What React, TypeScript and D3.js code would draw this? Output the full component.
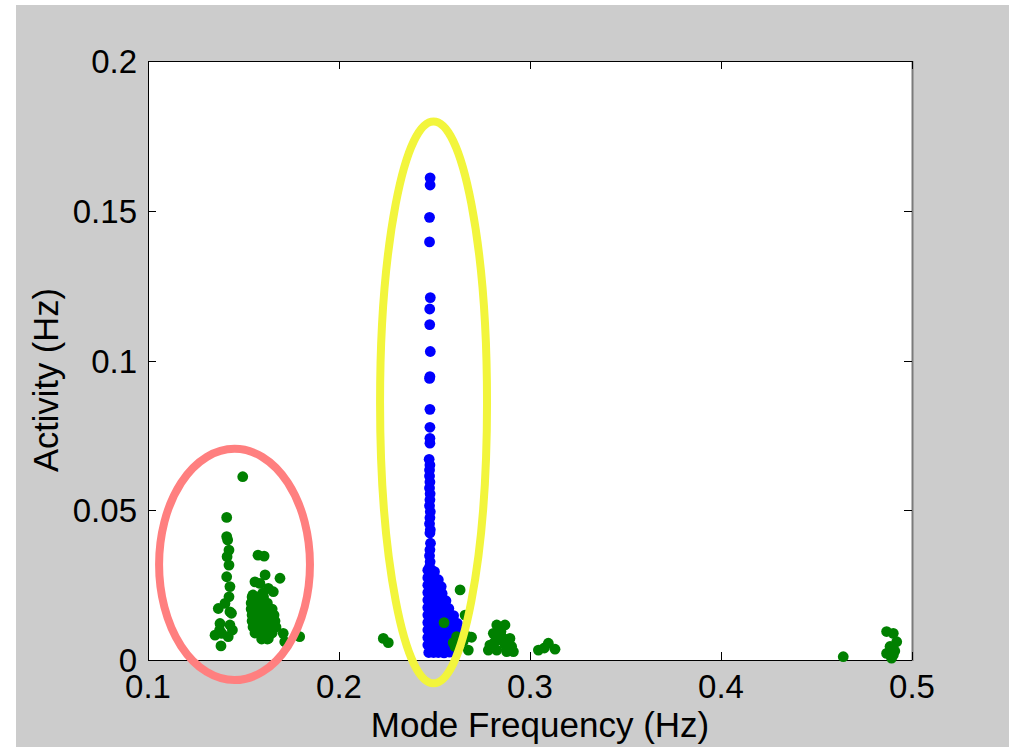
import React from "react";
import * as d3 from "d3";

const xTicks = [0.1, 0.2, 0.3, 0.4, 0.5];
const yTicks = [0, 0.05, 0.1, 0.15, 0.2];
const xTickLabels = ["0.1", "0.2", "0.3", "0.4", "0.5"];
const yTickLabels = ["0", "0.05", "0.1", "0.15", "0.2"];

// Blue cluster: [mode frequency, activity]
const bluePoints: [number, number][] = [
  [0.2477, 0.161], [0.2477, 0.1586], [0.2474, 0.1478], [0.2474, 0.1396],
  [0.2478, 0.121], [0.2475, 0.1172], [0.2475, 0.112], [0.2478, 0.103],
  [0.2476, 0.0946], [0.2474, 0.094], [0.2476, 0.0837], [0.2476, 0.0777],
  [0.2476, 0.074], [0.2476, 0.0724], [0.2472, 0.067], [0.2476, 0.0651],
  [0.2474, 0.0634], [0.2474, 0.0614], [0.2476, 0.0594], [0.2474, 0.0574],
  [0.2477, 0.0555], [0.2476, 0.0535], [0.2474, 0.0515], [0.2478, 0.0495],
  [0.2476, 0.0475], [0.2474, 0.0455], [0.2478, 0.0435], [0.2476, 0.0424],
  [0.2479, 0.039], [0.2476, 0.0368], [0.2474, 0.0348], [0.2477, 0.0328],
  [0.2474, 0.031],
  [0.2465, 0.030], [0.2485, 0.030], [0.2500, 0.0295],
  [0.2465, 0.0275], [0.2485, 0.0275], [0.2505, 0.0272], [0.2520, 0.0268],
  [0.2465, 0.025], [0.2490, 0.025], [0.2515, 0.0248], [0.2535, 0.0245],
  [0.2465, 0.0225], [0.2490, 0.0225], [0.2515, 0.0225], [0.2540, 0.0222],
  [0.2465, 0.020], [0.2490, 0.020], [0.2515, 0.020], [0.2540, 0.020], [0.2560, 0.0198],
  [0.2465, 0.0175], [0.2490, 0.0175], [0.2515, 0.0175], [0.2545, 0.0175], [0.2575, 0.0172],
  [0.2465, 0.015], [0.2490, 0.015], [0.2515, 0.015], [0.2545, 0.015], [0.2575, 0.015], [0.2600, 0.0148],
  [0.2465, 0.0125], [0.2490, 0.0125], [0.2515, 0.0125], [0.2545, 0.0125], [0.2575, 0.0125], [0.2605, 0.0125], [0.2620, 0.0122],
  [0.2465, 0.010], [0.2490, 0.010], [0.2515, 0.010], [0.2545, 0.010], [0.2575, 0.010], [0.2605, 0.010], [0.2625, 0.0098],
  [0.2465, 0.0075], [0.2490, 0.0075], [0.2515, 0.0075], [0.2545, 0.0075], [0.2575, 0.0075], [0.2605, 0.0075], [0.2625, 0.0072],
  [0.2465, 0.005], [0.2490, 0.005], [0.2515, 0.005], [0.2545, 0.005], [0.2575, 0.005], [0.2600, 0.0048],
  [0.2470, 0.0025], [0.2495, 0.0025], [0.2520, 0.0025], [0.2550, 0.0024], [0.2580, 0.0026],
];

// Green points: [mode frequency, activity]
const greenPoints: [number, number][] = [
  // left column inside red ellipse
  [0.1496, 0.0612], [0.1412, 0.0476], [0.1412, 0.0412], [0.1417, 0.0401],
  [0.1424, 0.0367], [0.1414, 0.0345], [0.1424, 0.0317], [0.1412, 0.0278],
  [0.1429, 0.0245], [0.1424, 0.0211], [0.1403, 0.0189], [0.1368, 0.0172],
  [0.1429, 0.0161], [0.1437, 0.0156], [0.1377, 0.0122], [0.1429, 0.0117],
  [0.1442, 0.010], [0.1351, 0.0083], [0.1386, 0.0089], [0.1420, 0.0078],
  [0.1382, 0.0047], [0.1375, 0.0100],
  // second column inside red ellipse
  [0.1576, 0.035], [0.1608, 0.0347], [0.1613, 0.0284], [0.1691, 0.0273],
  [0.1560, 0.0261], [0.1586, 0.0256], [0.1630, 0.0239], [0.1656, 0.0228],
  [0.1549, 0.0217], [0.1600, 0.0223],
  [0.1545, 0.021], [0.1575, 0.021], [0.1605, 0.021],
  [0.1540, 0.019], [0.1570, 0.019], [0.1600, 0.019], [0.1625, 0.019],
  [0.1540, 0.017], [0.1565, 0.017], [0.1595, 0.017], [0.1625, 0.017], [0.1650, 0.017],
  [0.1545, 0.015], [0.1570, 0.015], [0.1600, 0.015], [0.1630, 0.015], [0.1660, 0.015],
  [0.1545, 0.013], [0.1575, 0.013], [0.1605, 0.013], [0.1635, 0.013], [0.1665, 0.013],
  [0.1550, 0.011], [0.1580, 0.011], [0.1610, 0.011], [0.1640, 0.011], [0.1670, 0.011],
  [0.1560, 0.009], [0.1590, 0.009], [0.1620, 0.009], [0.1650, 0.009],
  [0.1595, 0.007], [0.1625, 0.007],
  [0.1708, 0.0089], [0.1794, 0.0078], [0.1716, 0.0061], [0.1630, 0.0072],
  // around the blue column
  [0.2232, 0.0072], [0.2258, 0.0058],
  [0.2634, 0.0234], [0.2550, 0.0125], [0.2660, 0.015],
  [0.2616, 0.0078], [0.2607, 0.0045], [0.2598, 0.0058],
  [0.2677, 0.0078], [0.2694, 0.0076], [0.2677, 0.0033], [0.2650, 0.0062],
  // cluster near 0.28-0.29
  [0.2826, 0.0117], [0.2869, 0.0117], [0.2808, 0.0089], [0.2860, 0.0072],
  [0.2790, 0.005], [0.2834, 0.0067], [0.2895, 0.0072], [0.2782, 0.0033],
  [0.2826, 0.0033], [0.2878, 0.0028], [0.2913, 0.0028], [0.2904, 0.0045],
  [0.2848, 0.0095], [0.2815, 0.0060], [0.2870, 0.0050],
  // cluster near 0.30-0.31
  [0.3044, 0.0033], [0.3096, 0.0056], [0.3131, 0.0036], [0.3075, 0.0040],
  // right cluster
  [0.4640, 0.0011], [0.4867, 0.0095], [0.4902, 0.0089], [0.4920, 0.0061],
  [0.4885, 0.0045], [0.4867, 0.0022], [0.4902, 0.0017], [0.4893, 0.0006],
  [0.4910, 0.0030],
];

// Annotation ellipses: [centre freq, centre activity, half-width freq, half-height activity]
const redEllipse = [0.1453, 0.0319, 0.0395, 0.0386];
const yellowEllipse = [0.2495, 0.086, 0.028, 0.0938];

const W = 1009;
const H = 747;
const margin = { left: 148, right: 912, top: 61, bottom: 660 };
const font = "'Liberation Sans', Arial, Helvetica, sans-serif";

export default function App() {
  const x = d3.scaleLinear().domain([0.1, 0.5]).range([margin.left, margin.right]);
  const y = d3.scaleLinear().domain([0, 0.2]).range([margin.bottom, margin.top]);
  const tick = 8;
  const r = 5.4;

  const ell = (e: number[], color: string) => {
    const cx = x(e[0]);
    const cy = y(e[1]);
    const rx = x(e[0] + e[2]) - cx;
    const ry = cy - y(e[1] + e[3]);
    return <ellipse cx={cx} cy={cy} rx={rx} ry={ry} fill="none" stroke={color} strokeWidth={8} />;
  };

  return (
    <svg width={W} height={H} style={{ position: "absolute", left: 0, top: 0 }}>
      <rect x={0} y={0} width={W} height={H} fill="#ffffff" />
      <rect x={16} y={5} width={W - 16} height={H - 5} fill="#cccccc" />
      <rect
        x={margin.left}
        y={margin.top}
        width={margin.right - margin.left}
        height={margin.bottom - margin.top}
        fill="#ffffff"
      />
      {/* box */}
      <line x1={margin.left} x2={margin.right} y1={margin.top + 0.5} y2={margin.top + 0.5} stroke="#000" />
      <line x1={margin.left} x2={margin.right} y1={margin.bottom + 0.5} y2={margin.bottom + 0.5} stroke="#000" />
      <line x1={margin.left + 0.5} x2={margin.left + 0.5} y1={margin.top} y2={margin.bottom} stroke="#000" />
      <line x1={margin.right + 0.5} x2={margin.right + 0.5} y1={margin.top} y2={margin.bottom + 1} stroke="#7a7a7a" strokeWidth={2} />
      {/* ticks */}
      {xTicks.map((t) => (
        <g key={"xt" + t}>
          <line x1={Math.round(x(t)) + 0.5} x2={Math.round(x(t)) + 0.5} y1={margin.bottom} y2={margin.bottom - tick} stroke="#000" />
          <line x1={Math.round(x(t)) + 0.5} x2={Math.round(x(t)) + 0.5} y1={margin.top} y2={margin.top + tick} stroke="#000" />
        </g>
      ))}
      {yTicks.map((t) => (
        <g key={"yt" + t}>
          <line x1={margin.left} x2={margin.left + tick} y1={Math.round(y(t)) + 0.5} y2={Math.round(y(t)) + 0.5} stroke="#000" />
          <line x1={margin.right} x2={margin.right - tick} y1={Math.round(y(t)) + 0.5} y2={Math.round(y(t)) + 0.5} stroke="#000" />
        </g>
      ))}
      {/* data */}
      {bluePoints.map((p, i) => (
        <circle key={"b" + i} cx={x(p[0])} cy={y(p[1])} r={r} fill="#0000ff" />
      ))}
      {greenPoints.map((p, i) => (
        <circle key={"g" + i} cx={x(p[0])} cy={y(p[1])} r={r} fill="#008000" />
      ))}
      {/* tick labels */}
      {xTicks.map((t, i) => (
        <text key={"xl" + t} x={x(t)} y={698} textAnchor="middle" fontFamily={font} fontSize={33} fill="#000">
          {xTickLabels[i]}
        </text>
      ))}
      {yTicks.map((t, i) => (
        <text key={"yl" + t} x={137} y={y(t) + 12} textAnchor="end" fontFamily={font} fontSize={33} fill="#000">
          {yTickLabels[i]}
        </text>
      ))}
      <text x={540} y={737} textAnchor="middle" fontFamily={font} fontSize={35} fill="#000">
        Mode Frequency (Hz)
      </text>
      <text
        transform={`translate(58, 380) rotate(-90)`}
        textAnchor="middle"
        fontFamily={font}
        fontSize={34.5}
        fill="#000"
      >
        Activity (Hz)
      </text>
      {/* annotations */}
      {ell(redEllipse, "#ff7f7f")}
      {ell(yellowEllipse, "#f2f53c")}
    </svg>
  );
}
